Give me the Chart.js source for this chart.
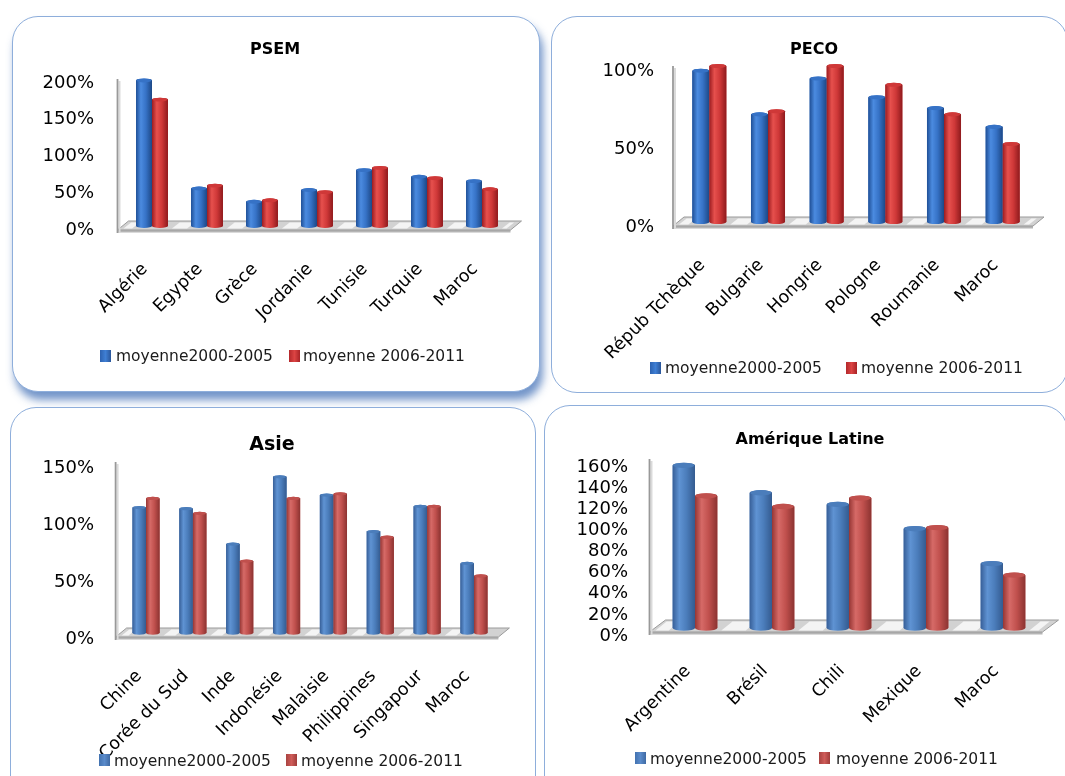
<!DOCTYPE html>
<html>
<head>
<meta charset="utf-8">
<script src="https://cdn.jsdelivr.net/npm/chart.js@4"></script>
<style>
  body { margin: 0; width: 1065px; height: 776px; background: #fff; position: relative; overflow: hidden; font-family: "DejaVu Sans", sans-serif; }
  .panel { position: absolute; box-sizing: border-box; border: 1.5px solid #8eaedb; border-radius: 26px; background: #fff; }
  .shadow { box-shadow: 3px 8px 9px rgba(90, 130, 192, 0.85); }
  canvas { position: absolute; }
  .title { position: absolute; font-weight: bold; color: #000; transform: translate(-50%, -50%); white-space: nowrap; }
  .legend { position: absolute; font-size: 15.5px; color: #1a1a1a; white-space: nowrap; transform: translateY(-50%); }
  .sq { position: absolute; width: 11px; height: 12px; transform: translateY(-50%); }
</style>
</head>
<body>

<div class="panel shadow" style="left:12px;top:16px;width:528px;height:376px"></div>
<div class="panel" style="left:551px;top:16px;width:517px;height:377px"></div>
<div class="panel" style="left:10px;top:407px;width:526px;height:400px"></div>
<div class="panel" style="left:544px;top:405px;width:524px;height:400px"></div>

<canvas id="psem" width="528" height="376" style="left:12px;top:16px"></canvas>
<canvas id="peco" width="514" height="376" style="left:551px;top:16px"></canvas>
<canvas id="asie" width="526" height="369" style="left:10px;top:407px"></canvas>
<canvas id="amlat" width="521" height="371" style="left:544px;top:405px"></canvas>

<div class="title" style="left:275px;top:48px;font-size:16px">PSEM</div>
<div class="title" style="left:814px;top:48px;font-size:16px">PECO</div>
<div class="title" style="left:272px;top:443px;font-size:19px">Asie</div>
<div class="title" style="left:810px;top:438px;font-size:16px">Amérique Latine</div>

<div class="sq" style="left:100px;top:356px;background:linear-gradient(90deg,#2d62b0,#3f7fd4,#2a569a)"></div>
<div class="legend" style="left:116px;top:356px">moyenne2000-2005</div>
<div class="sq" style="left:289px;top:356px;background:linear-gradient(90deg,#b3282b,#dc4443,#a82326)"></div>
<div class="legend" style="left:303px;top:356px">moyenne 2006-2011</div>

<div class="sq" style="left:650px;top:368px;background:linear-gradient(90deg,#2d62b0,#3f7fd4,#2a569a)"></div>
<div class="legend" style="left:665px;top:368px">moyenne2000-2005</div>
<div class="sq" style="left:846px;top:368px;background:linear-gradient(90deg,#b3282b,#dc4443,#a82326)"></div>
<div class="legend" style="left:861px;top:368px">moyenne 2006-2011</div>

<div class="sq" style="left:99px;top:760px;background:linear-gradient(90deg,#4272b0,#5a8bcb,#3f6aa3)"></div>
<div class="legend" style="left:114px;top:761px">moyenne2000-2005</div>
<div class="sq" style="left:286px;top:760px;background:linear-gradient(90deg,#a84240,#cf5c59,#9f3c3a)"></div>
<div class="legend" style="left:301px;top:761px">moyenne 2006-2011</div>

<div class="sq" style="left:635px;top:758px;background:linear-gradient(90deg,#4272b0,#5a8bcb,#3f6aa3)"></div>
<div class="legend" style="left:650px;top:759px">moyenne2000-2005</div>
<div class="sq" style="left:819px;top:758px;background:linear-gradient(90deg,#a84240,#cf5c59,#9f3c3a)"></div>
<div class="legend" style="left:836px;top:759px">moyenne 2006-2011</div>

<script>
// --- data ---
const psemLabels = ['Algérie', 'Egypte', 'Grèce', 'Jordanie', 'Tunisie', 'Turquie', 'Maroc'];
const psem2000 = [198, 51, 33, 49, 76, 67, 61];
const psem2006 = [172, 55, 35, 46, 79, 65, 50];

const pecoLabels = ['Répub Tchèque', 'Bulgarie', 'Hongrie', 'Pologne', 'Roumanie', 'Maroc'];
const peco2000 = [97, 69, 92, 80, 73, 61];
const peco2006 = [100, 71, 100, 88, 69, 50];

const asieLabels = ['Chine', 'Corée du Sud', 'Inde', 'Indonésie', 'Malaisie', 'Philippines', 'Singapour', 'Maroc'];
const asie2000 = [110, 109, 78, 137, 121, 89, 111, 61];
const asie2006 = [118, 105, 63, 118, 122, 84, 111, 50];

const amlatLabels = ['Argentine', 'Brésil', 'Chili', 'Mexique', 'Maroc'];
const amlat2000 = [154, 128, 117, 94, 61];
const amlat2006 = [125, 115, 123, 95, 50];

const seriesNames = ['moyenne2000-2005', 'moyenne 2006-2011'];

// cylinder shading: dark edge, highlight, body, dark edge
const brightBlue = ['#1f4f96', '#4b8be0', '#3672c6', '#1d4886'];
const brightRed = ['#9c1c20', '#e6504d', '#cf3838', '#8f1a1d'];
const softBlue = ['#375f98', '#5f93d3', '#4b7dbb', '#345b90'];
const softRed = ['#963634', '#d66a67', '#c0504d', '#8c3331'];

// floor slab, wall edge and round columns
const cylinder3d = {
  id: 'cylinder3d',
  beforeDatasetsDraw(chart, args, opts) {
    const { ctx, chartArea: a, scales: { x, y } } = chart;
    const base = y.getPixelForValue(0);
    const fy = base + 4;
    const x0 = a.left - opts.gap, x1 = a.right + 1;
    const dx = opts.dx, dy = opts.dy;
    ctx.save();
    // slab edge
    ctx.fillStyle = '#b5b5b5';
    ctx.fillRect(x0, fy, x1 - x0, 2.5);
    // slab top
    ctx.beginPath();
    ctx.moveTo(x0, fy);
    ctx.lineTo(x1, fy);
    ctx.lineTo(x1 + dx, fy - dy);
    ctx.lineTo(x0 + dx, fy - dy);
    ctx.closePath();
    ctx.fillStyle = '#d2d2d2';
    ctx.fill();
    // lighter patches between the column groups
    const n = chart.data.labels.length;
    const step = n > 1 ? x.getPixelForValue(1) - x.getPixelForValue(0) : a.width;
    const g = step * opts.group / 2;
    ctx.fillStyle = '#f4f4f4';
    for (let i = 0; i <= n; i++) {
      const l = i === 0 ? x0 + 6 : x.getPixelForValue(i - 1) + g + 4;
      const r = i === n ? x1 - 4 : x.getPixelForValue(i) - g - 4;
      if (r - l < 4) continue;
      ctx.beginPath();
      ctx.moveTo(l, fy - 1.5);
      ctx.lineTo(r, fy - 1.5);
      ctx.lineTo(r + dx * 0.7, fy - dy + 1.5);
      ctx.lineTo(l + dx * 0.7, fy - dy + 1.5);
      ctx.closePath();
      ctx.fill();
    }
    ctx.strokeStyle = '#9a9a9a';
    ctx.lineWidth = 1;
    ctx.beginPath();
    ctx.moveTo(x0, fy);
    ctx.lineTo(x1, fy);
    ctx.lineTo(x1 + dx, fy - dy);
    ctx.lineTo(x0 + dx, fy - dy);
    ctx.closePath();
    ctx.stroke();
    // wall edge
    const top = y.getPixelForValue(y.max);
    ctx.strokeStyle = '#dadada';
    ctx.lineWidth = 2;
    ctx.beginPath();
    ctx.moveTo(x0 + 2, top + 2);
    ctx.lineTo(x0 + 2, fy + 2);
    ctx.stroke();
    ctx.strokeStyle = '#999';
    ctx.lineWidth = 1.8;
    ctx.beginPath();
    ctx.moveTo(x0, top);
    ctx.lineTo(x0, fy + 3);
    ctx.stroke();
    ctx.restore();
  },
  afterDatasetsDraw(chart, args, opts) {
    const { ctx } = chart;
    chart.data.datasets.forEach((ds, di) => {
      const shades = opts.shades[di];
      chart.getDatasetMeta(di).data.forEach(bar => {
        const { x, y, base, width } = bar.getProps(['x', 'y', 'base', 'width'], true);
        const l = x - width / 2, r = x + width / 2;
        const ry = Math.max(1.5, width * 0.12);
        const grad = ctx.createLinearGradient(l, 0, r, 0);
        grad.addColorStop(0, shades[0]);
        grad.addColorStop(0.3, shades[1]);
        grad.addColorStop(0.62, shades[2]);
        grad.addColorStop(1, shades[3]);
        ctx.save();
        ctx.fillStyle = grad;
        ctx.beginPath();
        ctx.moveTo(l, y);
        ctx.lineTo(l, base);
        ctx.ellipse(x, base, width / 2, ry, 0, Math.PI, 0, true);
        ctx.lineTo(r, y);
        ctx.ellipse(x, y, width / 2, ry, 0, 0, Math.PI, true);
        ctx.closePath();
        ctx.fill();
        // top cap
        ctx.beginPath();
        ctx.ellipse(x, y, width / 2 - 0.5, ry, 0, 0, Math.PI * 2);
        ctx.fillStyle = shades[2];
        ctx.fill();
        ctx.restore();
      });
    });
  }
};

function makeChart(id, labels, s2000, s2006, cfg) {
  const ctx = document.getElementById(id).getContext('2d');
  return new Chart(ctx, {
    type: 'bar',
    data: {
      labels: labels,
      datasets: [
        { label: seriesNames[0], data: s2000, backgroundColor: cfg.shades[0][2] },
        { label: seriesNames[1], data: s2006, backgroundColor: cfg.shades[1][2] }
      ]
    },
    options: {
      responsive: false,
      animation: false,
      clip: false,
      categoryPercentage: 0.58,
      barPercentage: 1,
      layout: { padding: cfg.pad },
      plugins: {
        legend: { display: false },
        title: { display: false },
        tooltip: { enabled: false },
        cylinder3d: { gap: 7, dx: cfg.dx, dy: cfg.dy, group: 0.58, shades: cfg.shades }
      },
      scales: {
        x: {
          grid: { display: false, drawTicks: false },
          border: { display: false },
          ticks: {
            autoSkip: false,
            minRotation: 45,
            maxRotation: 45,
            padding: 33,
            labelOffset: -7,
            color: '#000',
            font: { family: 'DejaVu Sans', size: 17.5 }
          },
          afterFit: s => { s.height = cfg.xh; }
        },
        y: {
          min: 0,
          max: cfg.max,
          grid: { display: false, drawTicks: false },
          border: { display: false },
          ticks: {
            stepSize: cfg.step,
            autoSkip: false,
            padding: cfg.tickPad,
            labelOffset: cfg.lo,
            color: '#000',
            font: { family: 'DejaVu Sans', size: 18 },
            callback: v => v + '%'
          },
          afterFit: s => { s.width = cfg.yw; }
        }
      }
    },
    plugins: [cylinder3d]
  });
}

makeChart('psem', psemLabels, psem2000, psem2006, {
  shades: [brightBlue, brightRed], max: 200, step: 50,
  pad: { left: 12.5, right: 30.5, top: 63, bottom: 0 }, yw: 100, xh: 166,
  tickPad: 30.5, lo: 4, dx: 11, dy: 9
});

makeChart('peco', pecoLabels, peco2000, peco2006, {
  shades: [brightBlue, brightRed], max: 100, step: 50,
  pad: { left: 19, right: 33, top: 50, bottom: 0 }, yw: 110, xh: 170,
  tickPad: 26, lo: 5, dx: 11, dy: 9
});

makeChart('asie', asieLabels, asie2000, asie2006, {
  shades: [softBlue, softRed], max: 150, step: 50,
  pad: { left: 12.6, right: 38.6, top: 55, bottom: 0 }, yw: 100, xh: 143,
  tickPad: 28.6, lo: 6, dx: 11, dy: 9
});

makeChart('amlat', amlatLabels, amlat2000, amlat2006, {
  shades: [softBlue, softRed], max: 160, step: 20,
  pad: { left: 12.5, right: 23.5, top: 54, bottom: 0 }, yw: 100, xh: 148,
  tickPad: 28.5, lo: 8, dx: 16, dy: 12
});
</script>
</body>
</html>
